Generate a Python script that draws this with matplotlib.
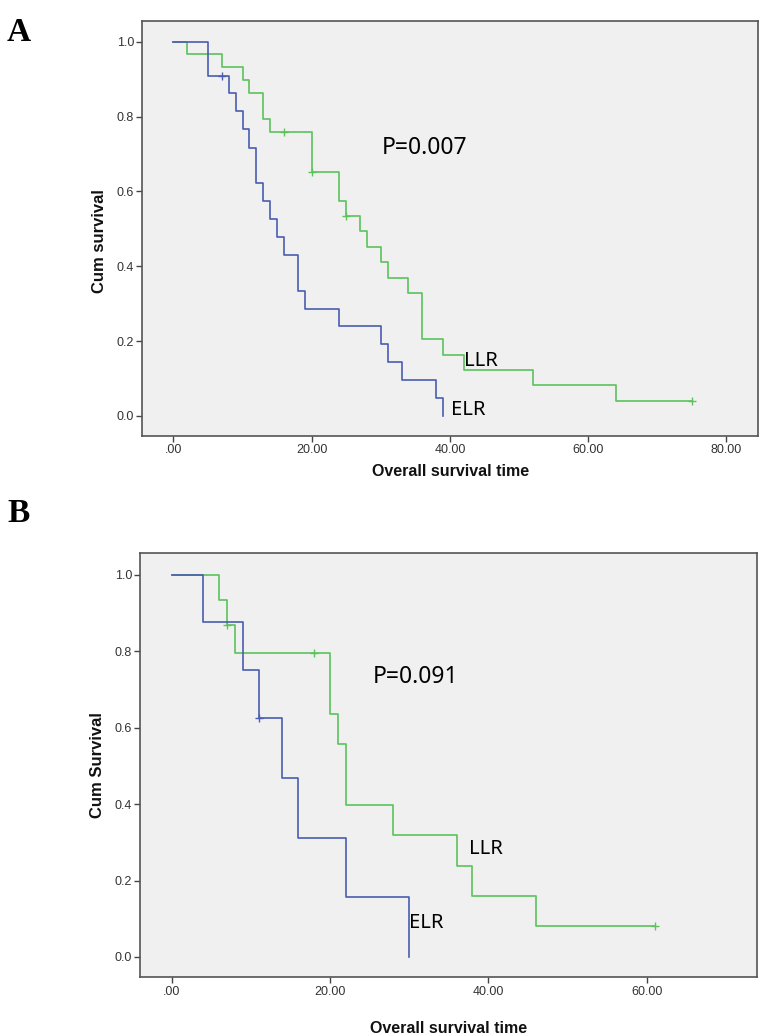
import matplotlib
matplotlib.use('Agg')
import matplotlib.pyplot as plt

# Panel A - Kaplan-Meier estimates
a_llr_time = [0, 2, 7, 10, 11, 13, 14, 20, 24, 25, 27, 28, 30, 31, 34, 36, 39, 42, 52, 64, 75]
a_llr_surv = [1.0, 0.966, 0.931, 0.897, 0.862, 0.793, 0.759, 0.651, 0.573, 0.535, 0.493,
              0.452, 0.412, 0.369, 0.329, 0.206, 0.164, 0.123, 0.082, 0.041, 0.041]
a_llr_cens_t = [16, 20, 25, 75]
a_llr_cens_s = [0.759, 0.651, 0.535, 0.041]

a_elr_time = [0, 5, 8, 9, 10, 11, 12, 13, 14, 15, 16, 18, 19, 24, 30, 31, 33, 38, 39]
a_elr_surv = [1.0, 0.909, 0.862, 0.815, 0.766, 0.717, 0.622, 0.575, 0.526, 0.478, 0.431,
              0.335, 0.287, 0.239, 0.191, 0.143, 0.096, 0.048, 0.0]
a_elr_cens_t = [7]
a_elr_cens_s = [0.909]

# Panel B
b_llr_time = [0, 6, 7, 8, 20, 21, 22, 28, 36, 38, 46, 61]
b_llr_surv = [1.0, 0.933, 0.867, 0.795, 0.636, 0.557, 0.398, 0.318, 0.239, 0.159, 0.080, 0.080]
b_llr_cens_t = [7, 18, 61]
b_llr_cens_s = [0.867, 0.795, 0.080]

b_elr_time = [0, 4, 9, 11, 14, 16, 22, 30]
b_elr_surv = [1.0, 0.875, 0.75, 0.625, 0.469, 0.3125, 0.156, 0.0]
b_elr_cens_t = [11]
b_elr_cens_s = [0.625]

green = '#5cc35c'
blue = '#4a5db0'
label_font = 'Noto Sans'

plt.rcParams['font.family'] = ['Liberation Sans', 'DejaVu Sans']

fig = plt.figure(figsize=(7.8, 10.36), dpi=100)


def km_panel(rect, xlim, xticks, ylabel, llr, elr, ptext, ppos, llrpos, elrpos, ylab_y):
    ax = fig.add_axes(rect)
    ax.set_facecolor('#f0f0f0')
    t, s, ct, cs = llr
    ax.step(t, s, where='post', color=green, lw=1.2)
    ax.plot(ct, cs, ls='none', marker='+', ms=6, mew=1.0, color=green)
    t, s, ct, cs = elr
    ax.step(t, s, where='post', color=blue, lw=1.2)
    ax.plot(ct, cs, ls='none', marker='+', ms=6, mew=1.0, color=blue)

    ax.set_xlim(xlim)
    ax.set_ylim(-0.053, 1.056)
    ax.set_xticks(xticks)
    ax.set_xticklabels(['.00' if v == 0 else '%.2f' % v for v in xticks])
    ax.set_yticks([0, 0.2, 0.4, 0.6, 0.8, 1.0])
    ax.set_yticklabels(['0.0', '0.2', '0.4', '0.6', '0.8', '1.0'])
    ax.tick_params(direction='out', length=4, width=1.0, colors='#444444',
                   labelsize=9, labelcolor='#333333', pad=2)
    for sp in ax.spines.values():
        sp.set_color('#555555')
        sp.set_linewidth(1.2)

    ax.set_xlabel('Overall survival time', fontsize=11.5, fontweight='bold', color='#111111')
    ax.set_ylabel(ylabel, fontsize=12, fontweight='bold', color='#111111')
    ax.yaxis.set_label_coords(-0.058, ylab_y)

    ax.text(ppos[0], ppos[1], ptext, fontsize=16.5, family=label_font, va='center', ha='left')
    ax.text(llrpos[0], llrpos[1], 'LLR', fontsize=14.5, family=label_font, va='center', ha='left')
    ax.text(elrpos[0], elrpos[1], 'ELR', fontsize=14.5, family=label_font, va='center', ha='left')
    return ax


axA = km_panel([0.1824, 0.5794, 0.7897, 0.4006], (-4.5, 84.6), [0, 20, 40, 60, 80],
               'Cum survival',
               (a_llr_time, a_llr_surv, a_llr_cens_t, a_llr_cens_s),
               (a_elr_time, a_elr_surv, a_elr_cens_t, a_elr_cens_s),
               'P=0.007', (30.2, 0.717), (42.0, 0.146), (40.2, 0.016), 0.47)
axA.xaxis.labelpad = 6

axB = km_panel([0.1799, 0.0567, 0.7903, 0.4093], (-3.95, 73.9), [0, 20, 40, 60],
               'Cum Survival',
               (b_llr_time, b_llr_surv, b_llr_cens_t, b_llr_cens_s),
               (b_elr_time, b_elr_surv, b_elr_cens_t, b_elr_cens_s),
               'P=0.091', (25.4, 0.732), (37.6, 0.282), (30.0, 0.09), 0.5)
axB.xaxis.labelpad = 17

fig.text(0.009, 0.969, 'A', family='Liberation Serif', fontweight='bold', fontsize=24, va='center')
fig.text(0.009, 0.504, 'B', family='Liberation Serif', fontweight='bold', fontsize=24, va='center')

fig.savefig('out.png', dpi=100, facecolor='white')
